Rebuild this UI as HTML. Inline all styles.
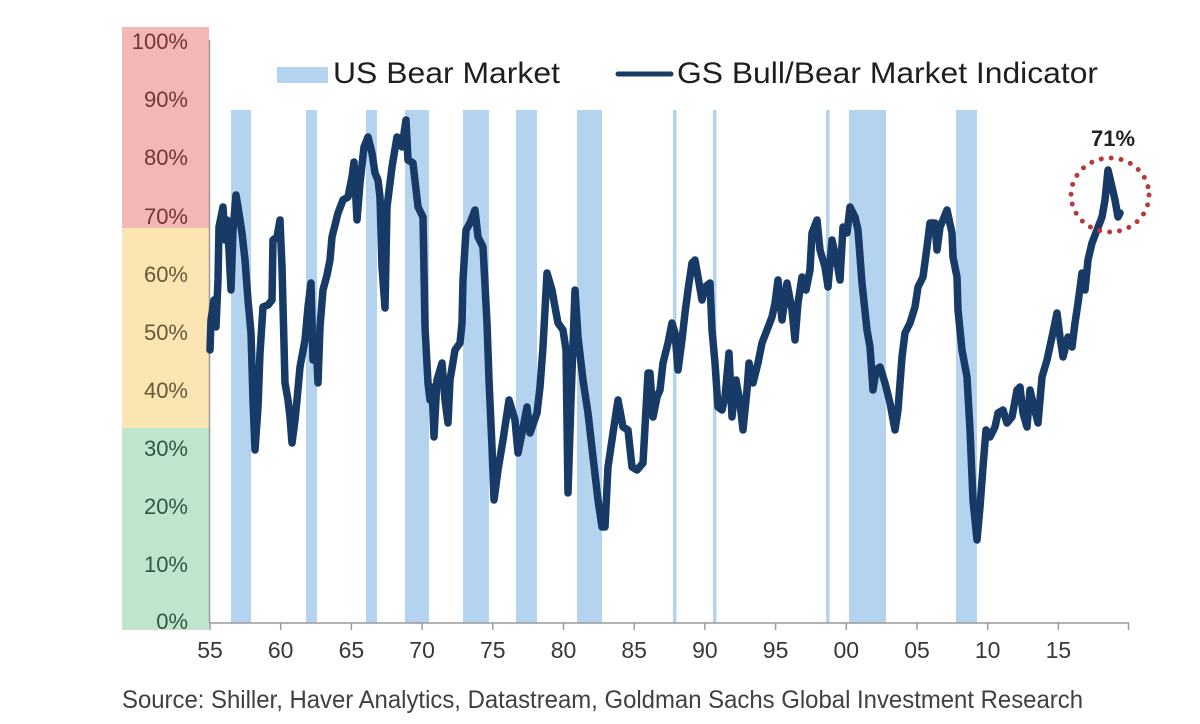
<!DOCTYPE html>
<html>
<head>
<meta charset="utf-8">
<style>
html,body{margin:0;padding:0;background:#fff;}
svg{display:block;}
text{font-family:"Liberation Sans",Arial,sans-serif;}
</style>
</head>
<body>
<svg width="1200" height="724" viewBox="0 0 1200 724" xmlns="http://www.w3.org/2000/svg">
<rect x="0" y="0" width="1200" height="724" fill="#ffffff"/>
<!-- zone panel -->
<rect x="122" y="27" width="87" height="201" fill="#f3b7b6"/>
<rect x="122" y="228" width="87" height="200" fill="#fbe5b3"/>
<rect x="122" y="428" width="87" height="202" fill="#bfe6cd"/>
<!-- y labels -->
<g font-size="22" text-anchor="end">
<text x="188" y="49" fill="#74343a">100%</text>
<text x="188" y="107" fill="#74343a">90%</text>
<text x="188" y="165" fill="#74343a">80%</text>
<text x="188" y="224" fill="#74343a">70%</text>
<text x="188" y="282" fill="#665838">60%</text>
<text x="188" y="340" fill="#665838">50%</text>
<text x="188" y="398" fill="#665838">40%</text>
<text x="188" y="456" fill="#325646">30%</text>
<text x="188" y="514" fill="#325646">20%</text>
<text x="188" y="572" fill="#325646">10%</text>
<text x="188" y="629" fill="#325646">0%</text>
</g>
<!-- bear market bars -->
<g fill="#b3d3ef">
<rect x="231" y="110" width="20" height="513"/>
<rect x="306" y="110" width="11" height="513"/>
<rect x="366" y="110" width="11" height="513"/>
<rect x="405" y="110" width="24" height="513"/>
<rect x="463" y="110" width="26" height="513"/>
<rect x="516" y="110" width="21" height="513"/>
<rect x="577" y="110" width="25" height="513"/>
<rect x="673" y="110" width="3.5" height="513"/>
<rect x="713" y="110" width="3.5" height="513"/>
<rect x="826" y="110" width="3.5" height="513"/>
<rect x="849" y="110" width="37" height="513"/>
<rect x="956" y="110" width="21" height="513"/>
</g>
<!-- axes -->
<line x1="209.5" y1="40" x2="209.5" y2="623" stroke="#9a9a9a" stroke-width="1.5"/>
<line x1="209" y1="623" x2="1129" y2="623" stroke="#9a9a9a" stroke-width="1.5"/>
<g stroke="#9a9a9a" stroke-width="1.5">
<line x1="210" y1="623" x2="210" y2="630"/>
<line x1="280.7" y1="623" x2="280.7" y2="630"/>
<line x1="351.4" y1="623" x2="351.4" y2="630"/>
<line x1="422.1" y1="623" x2="422.1" y2="630"/>
<line x1="492.8" y1="623" x2="492.8" y2="630"/>
<line x1="563.5" y1="623" x2="563.5" y2="630"/>
<line x1="634.2" y1="623" x2="634.2" y2="630"/>
<line x1="704.9" y1="623" x2="704.9" y2="630"/>
<line x1="775.6" y1="623" x2="775.6" y2="630"/>
<line x1="846.3" y1="623" x2="846.3" y2="630"/>
<line x1="917" y1="623" x2="917" y2="630"/>
<line x1="987.7" y1="623" x2="987.7" y2="630"/>
<line x1="1058.4" y1="623" x2="1058.4" y2="630"/>
<line x1="1128.5" y1="623" x2="1128.5" y2="630"/>
</g>
<g font-size="23" fill="#383838" text-anchor="middle">
<text x="210" y="658">55</text>
<text x="280.7" y="658">60</text>
<text x="351.4" y="658">65</text>
<text x="422.1" y="658">70</text>
<text x="492.8" y="658">75</text>
<text x="563.5" y="658">80</text>
<text x="634.2" y="658">85</text>
<text x="704.9" y="658">90</text>
<text x="775.6" y="658">95</text>
<text x="846.3" y="658">00</text>
<text x="917" y="658">05</text>
<text x="987.7" y="658">10</text>
<text x="1058.4" y="658">15</text>
</g>
<!-- series -->
<polyline fill="none" stroke="#173a66" stroke-width="7.5" stroke-linejoin="round" stroke-linecap="round" points="
210,350 211,320 214,300 216,327 218,280 219,227 223,207 225,240 227,220 229,250 231,290 233,230 236,195 238,207 242,233 245,260 248,300 251,333 253,400 255,450 258,407 260,353 263,307 268,305 272,300 273,240 277,237 280,220 282,267 285,383 288,400 290,417 292,443 295,420 297,400 300,367 305,340 308,307 311,283 313,360 316,340 318,383 320,327 323,290 327,275 330,260 332,237 335,225 338,213 343,200 348,197 352,177 354,162 357,220 360,183 364,147 368,137 372,153 375,173 378,180 380,197 382,267 385,308 387,207 392,167 397,137 402,147 406,120 408,160 413,163 418,207 423,217 425,327 428,383 430,400 432,387 434,437 437,380 442,363 445,400 448,423 450,380 455,350 460,343 462,323 463,280 466,230 470,223 475,210 478,237 483,247 487,323 489,380 492,447 494,500 498,470 503,440 509,400 515,420 518,453 522,433 527,407 530,433 537,413 540,387 543,347 547,273 552,290 555,307 558,323 563,330 566,350 568,493 571,400 575,290 578,337 583,380 588,413 593,457 598,500 602,527 605,527 608,467 613,433 618,400 623,427 628,430 632,467 637,470 643,463 648,373 650,373 653,417 657,397 660,390 663,363 668,343 672,323 675,333 678,370 682,340 685,313 688,290 692,263 695,260 698,277 702,300 705,287 710,283 712,330 715,363 718,407 722,410 725,397 729,353 732,417 736,380 740,403 743,430 747,390 749,363 753,383 758,363 762,343 767,330 772,317 775,303 778,280 782,320 787,283 792,310 795,340 798,303 802,277 806,290 810,270 812,233 817,220 820,250 825,267 828,287 832,240 837,263 840,280 843,227 847,233 850,207 855,217 858,230 862,283 867,330 870,347 873,390 876,370 880,367 885,383 890,403 895,430 898,410 902,357 905,333 910,323 915,307 918,287 923,277 927,247 930,223 935,223 937,250 940,227 943,220 947,210 952,233 953,257 957,277 958,310 962,350 967,377 970,430 973,500 977,540 980,507 983,467 986,430 990,437 995,427 998,413 1003,410 1007,423 1012,417 1017,390 1020,387 1023,413 1027,427 1030,390 1033,403 1038,423 1042,377 1047,360 1052,337 1057,313 1060,337 1063,357 1068,337 1072,347 1075,323 1078,303 1082,273 1085,290 1088,260 1092,243 1097,230 1102,217 1105,200 1108,170 1112,187 1115,200 1118,217 1120,213"/>
<!-- legend -->
<rect x="277" y="67" width="51" height="16" fill="#b3d3ef"/>
<text x="333" y="83" font-size="30" fill="#1e1e1e" textLength="227" lengthAdjust="spacingAndGlyphs">US Bear Market</text>
<line x1="618" y1="74" x2="671" y2="74" stroke="#173a66" stroke-width="5" stroke-linecap="round"/>
<text x="677" y="83" font-size="30" fill="#1e1e1e" textLength="421" lengthAdjust="spacingAndGlyphs">GS Bull/Bear Market Indicator</text>
<!-- annotation -->
<ellipse cx="1110" cy="195" rx="39" ry="37" fill="none" stroke="#b63a3a" stroke-width="5" stroke-dasharray="0 10" stroke-linecap="round"/>
<text x="1113" y="146" font-size="22" font-weight="bold" fill="#222" text-anchor="middle">71%</text>
<!-- source -->
<text x="122" y="708" font-size="25" fill="#404040" textLength="961" lengthAdjust="spacingAndGlyphs">Source: Shiller, Haver Analytics, Datastream, Goldman Sachs Global Investment Research</text>
</svg>
</body>
</html>
